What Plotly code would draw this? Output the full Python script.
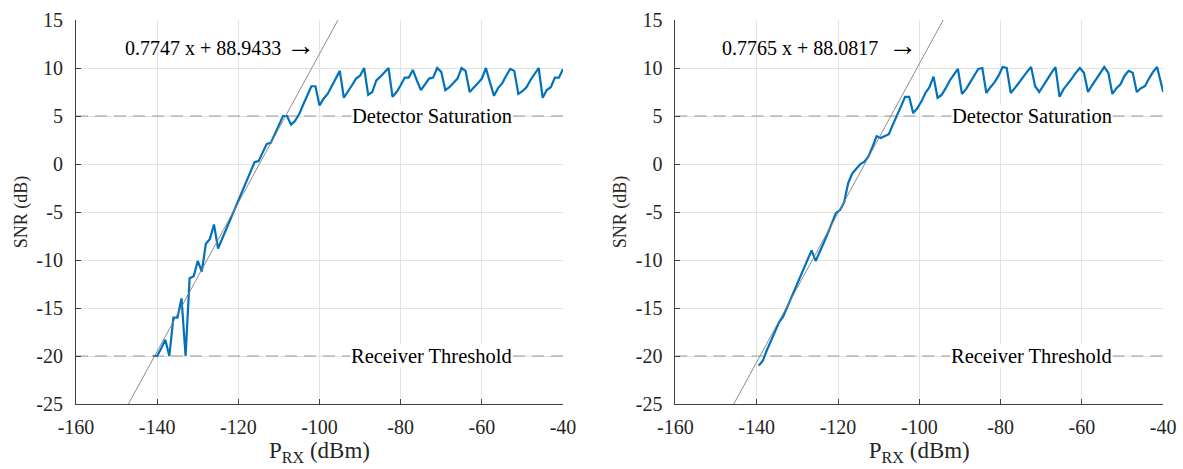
import plotly.graph_objects as go

# ---------------- data ----------------
left_prx = list(range(-141, -39))
left_snr = [-20.0, -20.0, -19.2, -18.3, -20.0, -16.0, -16.0, -14.0, -20.0, -11.9,
            -11.7, -10.1, -11.2, -8.3, -7.8, -6.3, -8.8, -7.8, -6.8, -5.8,
            -4.8, -3.8, -2.8, -1.7, -0.7, 0.2, 0.3, 1.2, 2.1, 2.2,
            3.1, 4.0, 5.0, 5.0, 4.1, 4.5, 5.2, 6.2, 7.2, 8.1,
            8.1, 6.1, 6.8, 7.3, 8.1, 8.9, 9.7, 6.9, 7.5, 8.2,
            8.9, 9.2, 10.0, 7.2, 7.5, 8.7, 9.1, 9.5, 10.0, 7.0,
            7.5, 8.2, 9.0, 9.0, 9.8, 8.7, 7.7, 8.3, 8.9, 9.0,
            10.0, 9.6, 7.7, 8.0, 8.5, 8.9, 10.0, 9.7, 7.5, 7.9,
            8.4, 8.9, 10.0, 8.5, 7.1, 7.9, 8.4, 9.2, 9.9, 9.7,
            7.3, 7.6, 8.0, 8.75, 9.4, 10.0, 6.9, 7.7, 8.0, 9.0,
            9.0, 9.9]

right_prx = [x + 0.5 for x in range(-140, -41)] + [-40.0]
right_snr = [-21.0, -20.5, -19.4, -18.4, -17.4, -16.5, -15.9, -14.9, -13.9, -12.9,
             -11.9, -10.9, -9.9, -9.0, -10.1, -9.2, -8.2, -7.2, -6.2, -5.1,
             -4.8, -4.0, -2.0, -1.0, -0.5, 0.0, 0.25, 0.8, 1.8, 2.9,
             2.7, 2.9, 3.1, 4.1, 5.0, 6.0, 7.0, 7.0, 5.3, 5.8,
             6.5, 7.4, 8.0, 9.1, 6.9, 7.2, 7.9, 8.7, 9.3, 9.9,
             7.3, 7.8, 8.5, 9.2, 9.9, 10.0, 7.4, 8.0, 8.5, 9.2,
             10.1, 10.0, 7.4, 7.9, 8.5, 9.1, 9.6, 10.1, 8.1, 7.5,
             8.2, 8.8, 9.5, 10.1, 7.0, 7.8, 8.3, 8.9, 9.5, 10.0,
             9.5, 7.5, 8.2, 8.8, 9.4, 10.1, 9.5, 7.3, 7.9, 8.3,
             9.2, 9.7, 9.5, 7.5, 7.9, 8.1, 8.9, 9.6, 10.1, 7.5]

left_fit = (0.7747, 88.9433)
right_fit = (0.7765, 88.0817)
fit_labels = ["0.7747 x + 88.9433 <span style='font-size:29px'>\u2192</span>",
              "0.7765 x + 88.0817 \u00a0<span style='font-size:29px'>\u2192</span>"]

detector_saturation = 5
receiver_threshold = -20
level_labels = ["Detector Saturation", "Receiver Threshold"]

x_range = [-160, -40]
y_range = [-25, 15]
x_tickvals = [-160, -140, -120, -100, -80, -60, -40]
x_ticktext = ["-160", "-140", "-120", "-100", "-80", "-60", "-40"]
y_tickvals = [15, 10, 5, 0, -5, -10, -15, -20, -25]
y_ticktext = ["15", "10", "5", "0", "-5", "-10", "-15", "-20", "-25"]

# ---------------- style ----------------
FONT = "'Liberation Serif', 'Times New Roman', Times, serif"
BLUE = "#0072BD"
AXC = "#404040"
GRID = "#e3e3e3"

W, H = 1183, 469
fig = go.Figure()

panels = [
    dict(xa="x", ya="y", prx=left_prx, snr=left_snr, fit=left_fit, lab=fit_labels[0],
         dom=[76 / W, 563 / W]),
    dict(xa="x2", ya="y2", prx=right_prx, snr=right_snr, fit=right_fit, lab=fit_labels[1],
         dom=[675.4 / W, 1163.2 / W]),
]

ydom = [1 - 404 / H, 1 - 20 / H]

for i, p in enumerate(panels):
    for lvl in (detector_saturation, receiver_threshold):
        fig.add_trace(go.Scatter(x=x_range, y=[lvl, lvl], mode="lines",
                                 line=dict(color="#9a9a9a", width=1.2, dash="12px,7px"),
                                 xaxis=p["xa"], yaxis=p["ya"], showlegend=False,
                                 hoverinfo="skip"))
    fig.add_trace(go.Scatter(x=p["prx"], y=p["snr"], mode="lines",
                             line=dict(color=BLUE, width=2.2),
                             xaxis=p["xa"], yaxis=p["ya"], showlegend=False))
    a, b = p["fit"]
    fig.add_trace(go.Scatter(x=x_range, y=[a * x_range[0] + b, a * x_range[1] + b],
                             mode="lines", line=dict(color="#808080", width=0.9),
                             xaxis=p["xa"], yaxis=p["ya"], showlegend=False,
                             hoverinfo="skip"))
    fig.add_annotation(x=-124.5, y=12.4, xref=p["xa"], yref=p["ya"], text=p["lab"],
                       showarrow=False, font=dict(family=FONT, size=20, color="#000"))
    fig.add_annotation(x=-72.3, y=detector_saturation, xref=p["xa"], yref=p["ya"],
                       text=level_labels[0], showarrow=False, bgcolor="white", borderpad=0,
                       font=dict(family=FONT, size=20.5, color="#000"))
    fig.add_annotation(x=-72.3, y=receiver_threshold, xref=p["xa"], yref=p["ya"],
                       text=level_labels[1], showarrow=False, bgcolor="white", borderpad=0,
                       font=dict(family=FONT, size=20.5, color="#000"))

axis_common = dict(showline=True, linecolor=AXC, linewidth=1, mirror=False,
                   ticks="inside", ticklen=5, tickcolor=AXC, tickwidth=1,
                   showgrid=True, gridcolor=GRID, gridwidth=1, zeroline=False,
                   tickfont=dict(family=FONT, size=20, color="#262626"),
                   automargin=False)

for i, p in enumerate(panels):
    sfx = "" if i == 0 else "2"
    fig.update_layout(**{
        "xaxis" + sfx: dict(axis_common, domain=p["dom"], range=x_range,
                            tickmode="array", tickvals=x_tickvals, ticktext=x_ticktext,
                            anchor="y" + sfx, ticklabelstandoff=5,
                            title=dict(text="P<sub>RX</sub> (dBm)", standoff=2,
                                       font=dict(family=FONT, size=23, color="#262626"))),
        "yaxis" + sfx: dict(axis_common, domain=ydom, range=y_range,
                            tickmode="array", tickvals=y_tickvals, ticktext=y_ticktext,
                            anchor="x" + sfx, ticklabelstandoff=8,
                            title=dict(text="SNR (dB)", standoff=4,
                                       font=dict(family=FONT, size=18, color="#262626"))),
    })

fig.update_layout(width=W, height=H, margin=dict(l=0, r=0, t=0, b=0),
                  paper_bgcolor="white", plot_bgcolor="white",
                  font=dict(family=FONT))

fig.write_html("out.html", config={"displayModeBar": False},
               post_script="document.body.style.margin='0';document.body.style.overflow='hidden';")
